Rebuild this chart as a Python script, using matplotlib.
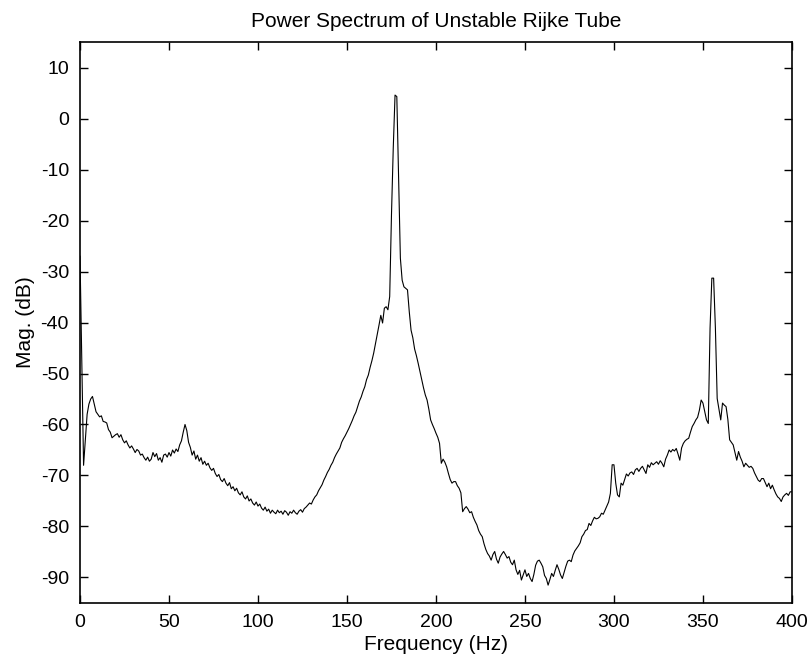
import matplotlib
matplotlib.use("Agg")
import matplotlib.pyplot as plt
import numpy as np

# Power spectrum, 1 Hz steps from 0 to 400 Hz
freq = np.arange(0, 401)
mag = [
    -27, -48, -68, -63, -58, -56, -55, -54.5, -56, -57.5,
    -58, -58.5, -58.3, -59.4, -59.5, -59.7, -61, -61.5, -62.6, -62.3,
    -62, -61.8, -62.5, -62, -63, -63.6, -63.2, -64, -64.6, -64.2,
    -64.8, -65.5, -64.9, -65.2, -66, -65.8, -66.5, -67, -66.4, -67.2,
    -66.8, -65.5, -66.3, -65.7, -67, -66.5, -67.4, -66, -65.8, -66.4,
    -65.5, -66.2, -65, -65.6, -64.8, -65.3, -64, -63.2, -61.5, -60,
    -61.2, -63.5, -64.5, -66, -65.2, -66.8, -66, -67.2, -66.5, -67.8,
    -67.2, -68, -67.6, -68.5, -69, -68.6, -69.6, -70.2, -69.8, -70.8,
    -71.2, -70.6, -71.5, -72, -71.4, -72.6, -72.2, -73, -72.5, -73.4,
    -73.8, -73.2, -74.2, -74.6, -74, -75, -74.6, -75.4, -75.8, -75.2,
    -76, -75.6, -76.4, -76.8, -76.2, -77, -76.6, -77.4, -76.8, -77.2,
    -77.5, -76.8, -77.3, -77, -77.6, -76.9, -77.2, -77.8, -77.1, -77.4,
    -76.8, -77.3, -77.6, -77, -76.7, -77.2, -76.5, -76.2, -75.8, -75.4,
    -75.6, -74.8, -74.2, -73.8, -73, -72.4, -71.8, -70.9, -70.2, -69.4,
    -68.8, -68, -67.4, -66.5, -65.8, -65.2, -64.6, -63.5, -62.8, -62.2,
    -61.5, -60.8, -60, -59.2, -58.3, -57.6, -56.5, -55.4, -54.6, -53.5,
    -52.6, -51.2, -50.3, -48.8, -47.5, -46, -44.2, -42.5, -40.5, -38.6,
    -40.1, -37.2, -36.9, -37.5, -34.9, -18.9, -5.8, 4.6, 4.3, -11.1,
    -27.4, -31.7, -33, -33.3, -33.6, -37.9, -41.5, -43, -45.2, -46.5,
    -48, -49.6, -51.2, -52.8, -54.2, -55.2, -57, -59.1, -60, -60.8,
    -61.7, -62.5, -63.7, -67.6, -66.8, -67.4, -68.3, -69.6, -70.8, -71.5,
    -71.2, -71.2, -72, -72.5, -73.4, -77.1, -76.5, -76.1, -76.6, -77.3,
    -77.1, -78.2, -79, -79.7, -80.8, -81.5, -82, -83.4, -84.5, -85.3,
    -85.8, -86.6, -85.5, -84.9, -86.4, -87.2, -86, -85.4, -84.9, -85.5,
    -86.2, -85.9, -87, -87.5, -86.6, -88.5, -89.4, -88.6, -90.5, -89.5,
    -88.5, -89.8, -89.2, -90.2, -90.8, -89.4, -87.6, -86.8, -86.6, -87.2,
    -87.9, -89.6, -90.2, -91.5, -90.4, -89.2, -89.8, -88.6, -87.5, -88.4,
    -89.5, -90.2, -89, -87.8, -86.8, -86.6, -86.9, -85.6, -84.8, -84.3,
    -83.8, -83.2, -82, -81.5, -80.8, -80.6, -79.4, -79.8, -78.9, -78.2,
    -78.5, -78.4, -78.1, -77.4, -77.6, -76.8, -76, -75.2, -73.5, -67.9,
    -67.9, -71.5, -73.8, -74.2, -71.5, -71.9, -70.8, -69.7, -70.1, -69.5,
    -69.3, -69.8, -68.9, -68.6, -69.2, -68.6, -68.2, -68.9, -69.6, -67.9,
    -68.4, -67.5, -67.9, -67.6, -67.3, -67.8, -67.1, -67.6, -68.3, -66.8,
    -66, -65, -65.4, -64.9, -65.2, -64.7, -65.8, -67, -64.6, -63.7,
    -63.2, -62.9, -62.7, -61.5, -60.4, -59.8, -59.1, -58.6, -57.2, -55.2,
    -55.8, -57.4, -59.1, -59.8, -41.1, -31.3, -31.3, -41.1, -54.9, -57,
    -59.1, -55.8, -56.2, -56.5, -59, -63, -63.5, -64, -65.5, -67,
    -65.3, -66.4, -67.2, -68.3, -67.6, -68, -68.4, -68.2, -68.6, -69.5,
    -70.2, -70.9, -71.2, -70.6, -70.6, -71.4, -72.2, -71.5, -72.6, -71.9,
    -72.8, -73.6, -74.2, -74.5, -75.1, -74.2, -73.8, -73.5, -73.9, -73.2,
    -73.2,
]

xticks = [0, 50, 100, 150, 200, 250, 300, 350, 400]
yticks = [10, 0, -10, -20, -30, -40, -50, -60, -70, -80, -90]

plt.rcParams['font.family'] = ['Liberation Sans', 'DejaVu Sans']
plt.rcParams['axes.unicode_minus'] = False

fig = plt.figure(figsize=(8.09, 6.64), dpi=100)
ax = fig.add_axes([0.0989, 0.0919, 0.880, 0.8448])

ax.plot(freq, mag, color='black', linewidth=0.8)

ax.set_xlim(0, 400)
ax.set_ylim(-95, 15)
ax.set_xticks(xticks)
ax.set_yticks(yticks)
ax.tick_params(direction='in', length=6, width=1, top=True, right=True,
               labelsize=14, pad=8)
for sp in ax.spines.values():
    sp.set_linewidth(1.2)

ax.set_title('Power Spectrum of Unstable Rijke Tube', fontsize=15, pad=11)
ax.set_xlabel('Frequency (Hz)', fontsize=15, labelpad=3)
ax.set_ylabel('Mag. (dB)', fontsize=15, labelpad=4)

fig.savefig('out.png', dpi=100)
